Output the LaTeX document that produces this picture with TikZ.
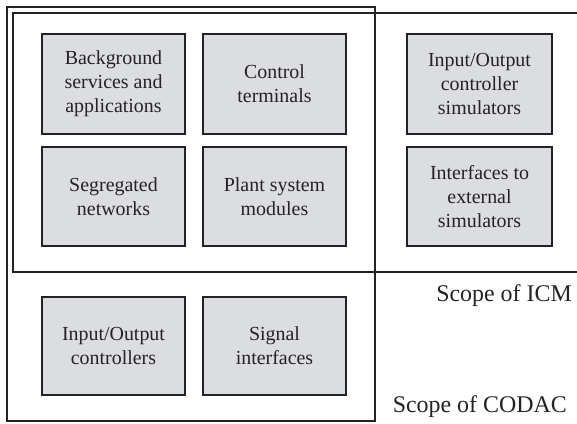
\documentclass[tikz,border=0pt]{standalone}
\usepackage{fontspec}
\setmainfont{Liberation Serif}
\definecolor{boxfill}{RGB}{220,221,224}
\definecolor{ink}{RGB}{35,35,35}
\begin{document}
\begin{tikzpicture}[x=1bp,y=-1bp,
  comp/.style={draw=ink, line width=1.6bp, fill=boxfill, align=center, text=ink,
    font=\fontsize{20}{24}\selectfont, inner sep=0pt},
  scopeline/.style={draw=ink, line width=1.8bp},
  scopelabel/.style={text=ink, font=\fontsize{24}{28}\selectfont, inner sep=0pt}]
\useasboundingbox (0,0) rectangle (577,423);
% scopes
\coordinate (codacNW) at (7,7);
\coordinate (codacSE) at (375,421);
\draw[scopeline] (codacNW) rectangle (codacSE);
\coordinate (icmTR) at (578,13);
\coordinate (icmTL) at (13,13);
\coordinate (icmBL) at (13,272);
\coordinate (icmBR) at (578,272);
\draw[scopeline] (icmTR) -- (icmTL) -- (icmBL) -- (icmBR);
% components
\node[comp, minimum width=143bp, minimum height=100bp] (bg) at (113.5,84) {Background\\services and\\applications};
\node[comp, minimum width=143bp, minimum height=100bp] (ct) at (274.5,84) {Control\\terminals};
\node[comp, minimum width=145bp, minimum height=100bp] (ios) at (479.5,84) {Input/Output\\controller\\simulators};
\node[comp, minimum width=143bp, minimum height=99bp] (sn) at (113.5,196.5) {Segregated\\networks};
\node[comp, minimum width=143bp, minimum height=99bp] (ps) at (274.5,196.5) {Plant system\\modules};
\node[comp, minimum width=145bp, minimum height=99bp] (ies) at (479.5,196.5) {Interfaces to\\external\\simulators};
\node[comp, minimum width=143bp, minimum height=98bp] (ioc) at (113.5,346) {Input/Output\\controllers};
\node[comp, minimum width=143bp, minimum height=98bp] (si) at (274.5,346) {Signal\\interfaces};
% labels
\node[scopelabel, anchor=east] (licm) at (572,296) {Scope of ICM};
\node[scopelabel, anchor=east] (lcodac) at (567,407) {Scope of CODAC};
\end{tikzpicture}
\end{document}
